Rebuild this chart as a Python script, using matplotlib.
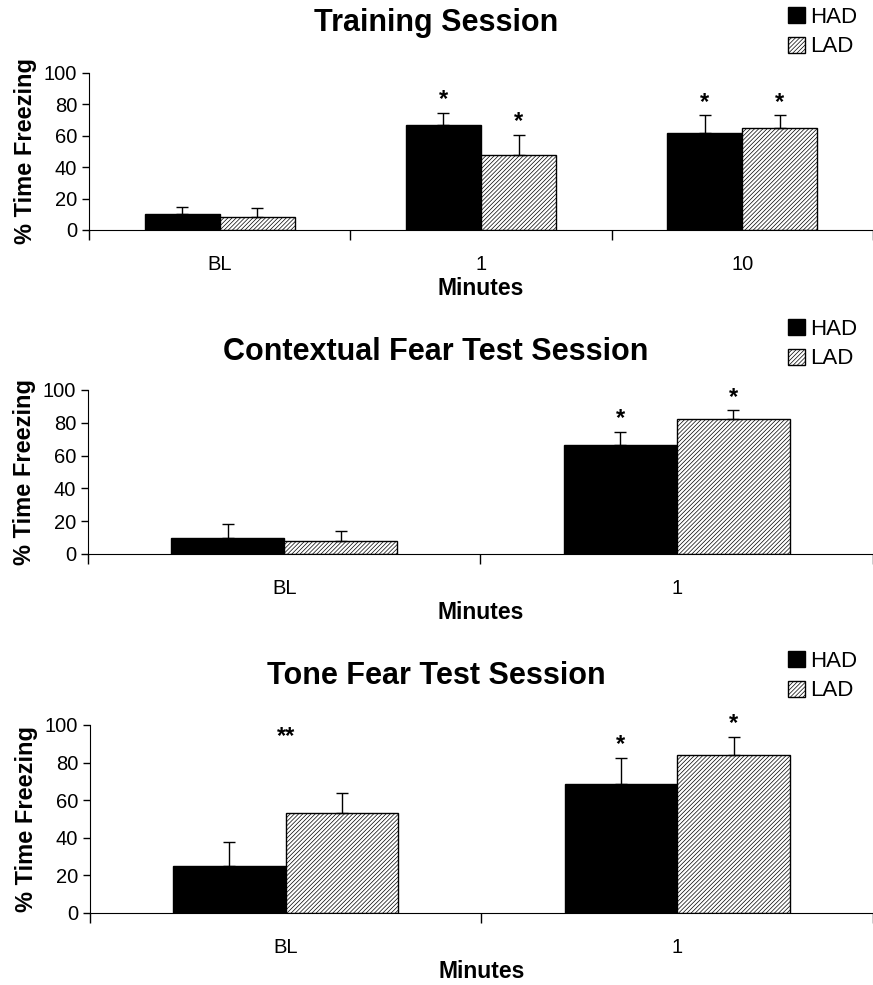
import matplotlib
matplotlib.use('Agg')
import matplotlib.pyplot as plt
import numpy as np
from matplotlib.patches import Patch

plt.rcParams['font.family'] = ['Liberation Sans', 'DejaVu Sans']
plt.rcParams['hatch.linewidth'] = 0.5

groups = ['HAD', 'LAD']

# Training session
train_cats = ['BL', '1', '10']
train_had = [10, 67, 62]
train_lad = [8, 48, 65]
train_had_err = [4.5, 7.5, 11]
train_lad_err = [6, 12.5, 8]
train_had_sig = ['', '*', '*']
train_lad_sig = ['', '*', '*']

# Contextual fear test
ctx_cats = ['BL', '1']
ctx_had = [10, 66.5]
ctx_lad = [8, 82]
ctx_had_err = [8, 8]
ctx_lad_err = [6, 5.5]
ctx_had_sig = ['', '*']
ctx_lad_sig = ['', '*']

# Tone fear test
tone_cats = ['BL', '1']
tone_had = [25, 68.5]
tone_lad = [53, 84]
tone_had_err = [13, 14]
tone_lad_err = [11, 9.5]
tone_had_sig = ['', '*']
tone_lad_sig = ['', '*']
tone_group_sig = ['**', '']

fig = plt.figure(figsize=(8.73, 9.85), dpi=100)


def panel(rect, title, cats, had, lad, had_err, lad_err, had_sig, lad_sig,
          title_y, leg_y, group_sig=None):
    ax = fig.add_axes(rect)
    n = len(cats)
    x = np.arange(n)
    w = 0.2875
    ax.bar(x - w / 2, had, w, color='black', edgecolor='black', linewidth=1,
           yerr=[np.zeros(n), had_err], capsize=4,
           error_kw=dict(elinewidth=1, capthick=1, ecolor='black'))
    ax.bar(x + w / 2, lad, w, color='white', edgecolor='black', linewidth=1,
           hatch='////////',
           yerr=[np.zeros(n), lad_err], capsize=4,
           error_kw=dict(elinewidth=1, capthick=1, ecolor='black'))
    for i in range(n):
        if had_sig[i]:
            ax.text(x[i] - w / 2, had[i] + had_err[i] + 1.0, had_sig[i],
                    ha='center', va='bottom', fontsize=17, fontweight='bold')
        if lad_sig[i]:
            ax.text(x[i] + w / 2, lad[i] + lad_err[i] + 1.0, lad_sig[i],
                    ha='center', va='bottom', fontsize=17, fontweight='bold')
        if group_sig and group_sig[i]:
            ax.text(x[i], 88, group_sig[i], ha='center', va='bottom',
                    fontsize=17, fontweight='bold')
    ax.set_xlim(-0.5, n - 0.5)
    ax.set_ylim(0, 100)
    ax.set_yticks([0, 20, 40, 60, 80, 100])
    ax.tick_params(axis='y', labelsize=14.5, length=5, width=1, direction='out')
    ax.set_xticks(np.arange(n + 1) - 0.5)
    ax.set_xticklabels([])
    ax.tick_params(axis='x', which='major', length=7, width=1, direction='out')
    ax.set_xticks(x, minor=True)
    ax.set_xticklabels(cats, minor=True)
    ax.tick_params(axis='x', which='minor', length=0, pad=18, labelsize=14.5)
    ax.spines['top'].set_visible(False)
    ax.spines['right'].set_visible(False)
    ax.spines['left'].set_bounds(0, 100)
    ax.spines['bottom'].set_clip_on(False)
    ax.set_ylabel('% Time Freezing', fontsize=17, fontweight='bold', labelpad=5)
    ax.set_xlabel('Minutes', fontsize=16.5, fontweight='bold', labelpad=2)
    fig.text(0.4995, title_y, title, ha='center', va='center',
             fontsize=22, fontweight='bold')
    handles = [Patch(facecolor='black', edgecolor='black', label=groups[0]),
               Patch(facecolor='white', edgecolor='black', hatch='////////',
                     label=groups[1])]
    fig.legend(handles=handles, loc='center left',
               bbox_to_anchor=(0.903, leg_y), frameon=False, fontsize=16,
               handlelength=0.75, handleheight=0.75, handletextpad=0.25,
               labelspacing=0.4, borderpad=0, borderaxespad=0)
    return ax


panel([0.102, 0.7665, 0.898, 0.1594], 'Training Session', train_cats,
      train_had, train_lad, train_had_err, train_lad_err,
      train_had_sig, train_lad_sig, 1 - 23 / 985, 1 - 32 / 985)
panel([0.1008, 0.4376, 0.8992, 0.1665], 'Contextual Fear Test Session', ctx_cats,
      ctx_had, ctx_lad, ctx_had_err, ctx_lad_err,
      ctx_had_sig, ctx_lad_sig, 1 - 352 / 985, 1 - 344 / 985)
panel([0.103, 0.0731, 0.897, 0.1909], 'Tone Fear Test Session', tone_cats,
      tone_had, tone_lad, tone_had_err, tone_lad_err,
      tone_had_sig, tone_lad_sig, 1 - 676 / 985, 1 - 676 / 985,
      group_sig=tone_group_sig)

fig.savefig('out.png', dpi=100)
